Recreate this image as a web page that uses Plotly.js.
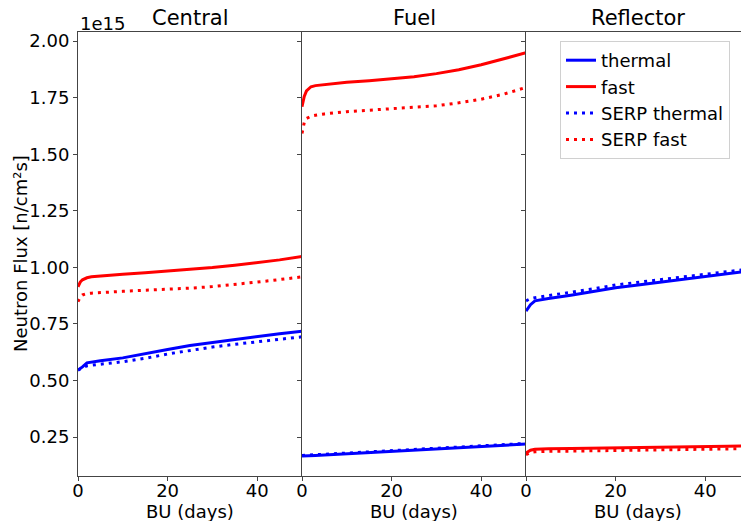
<!DOCTYPE html>
<html>
<head>
<meta charset="utf-8">
<script src="https://cdn.plot.ly/plotly-3.0.1.min.js"></script>
<style>body{margin:0;padding:0;background:#fff}#chart{width:741px;height:521px}</style>
</head>
<body>
<div id="chart"></div>
<script>
// Burnup steps (days)
const days = [0, 0.5, 1, 2, 3, 5, 10, 15, 20, 25, 30, 35, 40, 45, 50];

// Values in units of 1e15 n/cm²s
const centralThermal     = [0.546, 0.552, 0.560, 0.578, 0.582, 0.587, 0.600, 0.617, 0.637, 0.655, 0.668, 0.683, 0.694, 0.707, 0.718];
const centralFast        = [0.914, 0.935, 0.945, 0.954, 0.958, 0.962, 0.969, 0.976, 0.983, 0.990, 0.999, 1.009, 1.020, 1.033, 1.048];
const centralSerpThermal = [0.545, 0.552, 0.557, 0.565, 0.568, 0.572, 0.583, 0.598, 0.617, 0.633, 0.648, 0.660, 0.671, 0.683, 0.693];
const centralSerpFast    = [0.848, 0.870, 0.878, 0.884, 0.886, 0.889, 0.894, 0.899, 0.903, 0.908, 0.915, 0.924, 0.935, 0.946, 0.958];

const fuelThermal     = [0.166, 0.167, 0.167, 0.168, 0.169, 0.171, 0.176, 0.181, 0.186, 0.192, 0.197, 0.203, 0.208, 0.214, 0.219];
const fuelFast        = [1.710, 1.755, 1.780, 1.798, 1.803, 1.808, 1.818, 1.825, 1.833, 1.842, 1.856, 1.873, 1.895, 1.922, 1.948];
const fuelSerpThermal = [0.169, 0.170, 0.170, 0.171, 0.172, 0.174, 0.179, 0.184, 0.189, 0.195, 0.200, 0.206, 0.211, 0.217, 0.222];
const fuelSerpFast    = [1.592, 1.640, 1.658, 1.668, 1.672, 1.678, 1.688, 1.694, 1.699, 1.705, 1.714, 1.727, 1.743, 1.765, 1.795];

const reflThermal     = [0.807, 0.820, 0.835, 0.852, 0.856, 0.862, 0.877, 0.893, 0.910, 0.922, 0.934, 0.946, 0.958, 0.971, 0.985];
const reflFast        = [0.180, 0.187, 0.192, 0.196, 0.197, 0.198, 0.199, 0.200, 0.201, 0.202, 0.203, 0.205, 0.207, 0.209, 0.211];
const reflSerpThermal = [0.852, 0.858, 0.862, 0.866, 0.869, 0.874, 0.887, 0.905, 0.922, 0.934, 0.946, 0.958, 0.970, 0.982, 0.993];
const reflSerpFast    = [0.172, 0.178, 0.182, 0.185, 0.186, 0.187, 0.188, 0.189, 0.190, 0.191, 0.192, 0.193, 0.195, 0.197, 0.199];

const panelTitles = ['Central', 'Fuel', 'Reflector'];
const seriesNames = ['thermal', 'fast', 'SERP thermal', 'SERP fast'];
const xTitle = 'BU (days)';
const yTitle = 'Neutron Flux [n/cm²s]';
const yTicks = [0.25, 0.50, 0.75, 1.00, 1.25, 1.50, 1.75, 2.00];
const xTicks = [0, 20, 40];

const panels = [
  [centralThermal, centralFast, centralSerpThermal, centralSerpFast],
  [fuelThermal, fuelFast, fuelSerpThermal, fuelSerpFast],
  [reflThermal, reflFast, reflSerpThermal, reflSerpFast]
];
const colors = ['#0000ff', '#ff0000', '#0000ff', '#ff0000'];
const dashes = ['solid', 'solid', '3px,5px', '3px,5px'];

const traces = [];
panels.forEach((p, pi) => {
  p.forEach((vals, si) => {
    traces.push({
      x: days, y: vals, type: 'scatter', mode: 'lines',
      name: seriesNames[si], legendgroup: seriesNames[si],
      showlegend: pi === 0,
      line: {color: colors[si], width: 3, dash: dashes[si]},
      xaxis: pi === 0 ? 'x' : 'x' + (pi + 1),
      yaxis: pi === 0 ? 'y' : 'y' + (pi + 1)
    });
  });
});

const W = 663, H = 444;
const d1 = 224 / W, d2 = 448 / W;
const fam = 'DejaVu Sans, sans-serif';
const font = {family: fam, size: 18, color: '#000'};
const titleFont = {family: fam, size: 21, color: '#000'};
const lineCol = '#444';
const yRange = [0.078, 2.040];

function xax(domain, range, anchor) {
  return {
    domain: domain, range: range, anchor: anchor,
    tickvals: xTicks, ticktext: xTicks.map(String),
    ticks: 'outside', ticklen: 4, tickcolor: lineCol,
    ticklabelstandoff: -6,
    showline: true, linecolor: lineCol, linewidth: 1, mirror: true,
    showgrid: false, zeroline: false, tickfont: font
  };
}
function yax(anchor, labels) {
  return {
    domain: [0, 1], range: yRange, anchor: anchor,
    tickvals: yTicks, ticktext: yTicks.map(v => v.toFixed(2)),
    showticklabels: labels,
    ticks: 'outside', ticklen: 4, tickcolor: lineCol,
    showline: true, linecolor: lineCol, linewidth: 1,
    showgrid: false, zeroline: false, tickfont: font
  };
}

const panelCenters = [d1 / 2, (d1 + d2) / 2, (d2 + (448 + 224) / W) / 2];
const annotations = [
  {text: '1e15', xref: 'paper', yref: 'paper', x: 0, y: 1, xanchor: 'left', yanchor: 'bottom', showarrow: false, font: font, yshift: -4},
  {text: yTitle, xref: 'paper', yref: 'paper', x: (20 - 78) / W, y: 0.5, xanchor: 'center', yanchor: 'middle', textangle: -90, showarrow: false, font: font}
];
panelCenters.forEach((c, i) => {
  annotations.push({text: panelTitles[i], xref: 'paper', yref: 'paper', x: c, y: 1, xanchor: 'center', yanchor: 'bottom', showarrow: false, font: titleFont});
  annotations.push({text: xTitle, xref: 'paper', yref: 'paper', x: c, y: (476 - 511) / H, xanchor: 'center', yanchor: 'middle', showarrow: false, font: font});
});

const layout = {
  width: 741, height: 521,
  margin: {l: 78, r: 0, t: 32, b: 45},
  paper_bgcolor: '#fff', plot_bgcolor: '#fff',
  font: font,
  xaxis: xax([0, d1], [0, 50], 'y'),
  xaxis2: xax([d1, d2], [0, 50], 'y2'),
  xaxis3: xax([d2, 1], [0, 215 / 4.48], 'y3'),
  yaxis: yax('x', true),
  yaxis2: Object.assign(yax('x2', false), {matches: 'y'}),
  yaxis3: Object.assign(yax('x3', false), {matches: 'y'}),
  showlegend: true,
  legend: {
    x: (560 - 78) / W, y: (476 - 41) / H, xanchor: 'left', yanchor: 'top',
    bgcolor: 'rgba(255,255,255,0.8)', bordercolor: '#d0d0d0', borderwidth: 1,
    font: font, tracegroupgap: 0
  },
  annotations: annotations
};

Plotly.newPlot('chart', traces, layout, {displayModeBar: false, staticPlot: true});
</script>
</body>
</html>
